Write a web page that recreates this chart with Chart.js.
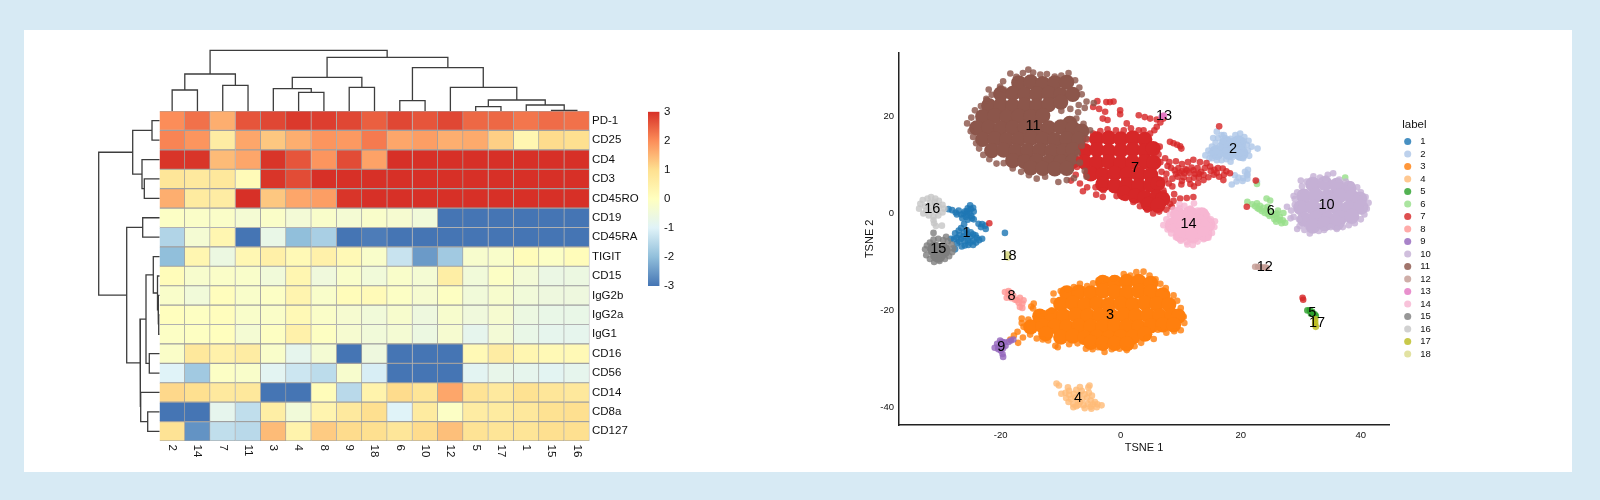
<!DOCTYPE html>
<html>
<head>
<meta charset="utf-8">
<title>Heatmap and TSNE</title>
<script src="https://cdn.jsdelivr.net/npm/chart.js@4/dist/chart.umd.min.js"></script>
<style>
  html, body { margin: 0; padding: 0; background: #d7eaf4; overflow: hidden; }
  #panel { position: absolute; left: 24px; top: 30px; width: 1548px; height: 442px; background: #fff; }
  canvas { position: absolute; left: 0; top: 0; }
</style>
</head>
<body>
<div id="panel"></div>
<canvas id="heat" width="1600" height="500"></canvas>
<canvas id="topTree" width="1600" height="500"></canvas>
<canvas id="leftTree" width="1600" height="500"></canvas>
<canvas id="colorBar" width="1600" height="500"></canvas>
<canvas id="tsne" width="1600" height="500"></canvas>
<script>
// HEATMAP DATA --------------------------------------------------------------
const clusterCols = ["2","14","7","11","3","4","8","9","18","6","10","12","5","17","1","15","16"];
const markerRows = ["PD-1","CD25","CD4","CD3","CD45RO","CD19","CD45RA","TIGIT","CD15","IgG2b","IgG2a","IgG1","CD16","CD56","CD14","CD8a","CD127"];

const rowPD1    = [2.0,2.3,1.6,2.6,2.75,2.9,2.85,2.75,2.5,2.75,2.6,2.75,2.4,2.4,2.25,2.35,2.3];
const rowCD25   = [2.1,1.9,0.6,1.7,1.3,1.6,1.9,1.85,2.2,1.7,1.8,1.6,1.65,1.2,0.3,1.05,1.0];
const rowCD4    = [2.95,2.95,1.45,1.7,2.95,2.6,1.9,2.7,1.75,3,3,3,3,3,3,3,3];
const rowCD3    = [0.8,0.7,0.75,0.15,2.95,2.7,3,3,3,3,3,3,3,3,3,3,3];
const rowCD45RO = [1.6,0.65,0.6,3,1.3,1.7,1.8,2.95,3,3,3,3,3,3,3,3,3];
const rowCD19   = [-0.1,-0.15,-0.15,-0.35,-0.15,-0.4,-0.2,-0.35,-0.2,-0.3,-0.45,-3,-3,-3,-3,-3,-3];
const rowCD45RA = [-1.6,-0.35,0.3,-3,-0.7,-2,-1.7,-3,-2.9,-3,-3,-3,-3,-3,-3,-3,-3];
const rowTIGIT  = [-2,0.3,-0.6,0.25,0.5,0.2,0.45,0.2,-0.2,-1.3,-2.5,-1.8,-0.25,-0.2,0.1,-0.1,0.1];
const rowCD15   = [0.1,-0.25,-0.15,-0.2,-0.45,0.3,-0.5,-0.2,-0.45,-0.2,-0.35,0.55,-0.45,-0.1,-0.4,-0.65,-0.6];
const rowIgG2b  = [-0.2,-0.45,0.05,-0.2,-0.1,0.35,-0.2,0.1,0.15,-0.1,-0.3,-0.05,-0.45,-0.25,-0.45,-0.55,-0.55];
const rowIgG2a  = [0.02,-0.05,0.05,-0.2,-0.15,0.2,-0.15,-0.3,-0.45,-0.25,-0.55,-0.25,-0.5,-0.3,-0.6,-0.7,-0.7];
const rowIgG1   = [-0.1,-0.05,0.02,-0.35,-0.05,0.45,-0.05,-0.3,-0.45,-0.35,-0.6,-0.3,-0.8,-0.4,-0.7,-0.8,-0.8];
const rowCD16   = [-0.15,0.75,0.45,0.6,-0.2,-0.8,-0.35,-3,-0.55,-3,-3,-3,0.2,0.6,0.3,0.2,0.2];
const rowCD56   = [-1,-1.8,-0.1,-0.2,-0.9,-1.25,-1.45,-0.25,-1.1,-3,-3,-3,-0.9,-0.75,-0.8,-0.9,-0.8];
const rowCD14   = [1.1,1,0.7,0.75,-3,-3,0.1,-1.5,0.4,1.05,0.85,1.7,0.9,0.7,0.95,0.8,0.75];
const rowCD8a   = [-3,-3,-0.8,-1.4,0.55,-0.45,0.35,0.7,1,-1,0.65,-0.1,0.6,0.65,0.75,0.95,1];
const rowCD127  = [0.9,-2.6,-1.4,-1.5,1.45,0.4,1.25,1.05,1,0.8,1.05,1.4,0.9,0.85,0.85,1,1];
const heatRows = [rowPD1,rowCD25,rowCD4,rowCD3,rowCD45RO,rowCD19,rowCD45RA,rowTIGIT,rowCD15,rowIgG2b,rowIgG2a,rowIgG1,rowCD16,rowCD56,rowCD14,rowCD8a,rowCD127];

const barTicks = [-3,-2,-1,0,1,2,3];
const barColors = ["#4575b4","#91bfdb","#e0f3f8","#ffffbf","#fee090","#fc8d59","#d73027"];

// dendrograms: each merge joins (pos1,low1) and (pos2,low2) at height "high"
const topPos1  = [0.5,2.5,1,5.5,4.5,7.5,5.25,9.5,12.5,15.5,14.5,13,11.5,10,6.625,2];
const topLow1  = [0,0,21,0,0,0,22.3,0,0,0,0,4.3,0,10.3,33.7,37];
const topPos2  = [1.5,3.5,3,6.5,6,8.5,8,10.5,13.5,16.5,16,15.25,14.125,12.8,11.4,9];
const topLow2  = [0,0,25.7,0,18.7,0,23.7,0,0,0,0.7,6,11,23.7,43.3,53.7];
const topHigh  = [21,25.7,37,18.7,22.3,23.7,33.7,10.3,4.3,0.7,6,11,23.7,43.3,53.7,60.7];

const leftPos1 = [0.5,3.5,2.5,1,5.5,10.5,9.5,8.5,7.5,12.5,8.44,15.5,14.5,10.72,6,2.125];
const leftLow1 = [0,0,0,7.5,0,0,0,0,0,0,6.2,0,0,13.5,16.8,26.8];
const leftPos2 = [1.5,4.5,4,3.25,6.5,11.5,11,10.25,9.375,13.5,13,16.5,16,15.25,12.98,9.49];
const leftLow2 = [0,0,15.2,17.5,0,0,0.8,1.5,2,0,10.2,0,11.8,18.8,19.5,32.8];
const leftHigh = [7.5,15.2,17.5,26.8,16.8,0.8,1.5,2,6.2,10.2,13.5,11.8,18.8,19.5,32.8,60.8];

// TSNE DATA -----------------------------------------------------------------
const tsneLabels = ["1","2","3","4","5","6","7","8","9","10","11","12","13","14","15","16","17","18"];
const tsneColors = ["#1f77b4","#aec7e8","#ff7f0e","#ffbb78","#2ca02c","#98df8a","#d62728","#ff9896","#9467bd","#c5b0d5","#8c564b","#c49c94","#e377c2","#f7b6d2","#7f7f7f","#c7c7c7","#bcbd22","#dbdb8d"];
const tsneTextX = [-25.7,18.7,-1.8,-7.1,31.9,25,2.4,-18.2,-19.9,34.3,-14.6,24,7.2,11.3,-30.4,-31.4,32.7,-18.7];
const tsneTextY = [-4,13.4,-21,-38,-20.5,0.5,9.3,-17.1,-27.6,1.7,18,-11,20.1,-2.2,-7.4,1,-22.6,-8.8];

const pts1 = [[-28.7,0.9],[-28.1,0.7],[-27.5,0.2],[-27,0.6],[-26.6,-0.2],[-26,0.4],[-25.5,1.1],[-25.1,1.7],[-24.6,1.2],[-24.5,0.4],[-25.2,0.1],[-25.8,-0.7],[-26.4,-1],[-25.5,-1.3],[-24.5,-1.2],[-24.9,-0.5],[-27.3,-0.2],[-26.1,-2.2],[-23.7,-2.1],[-23.1,-2.2],[-22.6,-2.5],[-23.3,-2.8],[-22.5,-3.2],[-19.3,-4],[-27.6,-4.1],[-27,-3.5],[-26.6,-3],[-26.1,-3.9],[-25.7,-3.4],[-25.1,-4.8],[-24.6,-4.3],[-24,-5],[-23.1,-5.2],[-23.6,-5.5],[-24.6,-5.6],[-25.5,-5.5],[-26,-6.6],[-26.6,-5.2],[-27.3,-6.2],[-27.6,-7.4],[-26.9,-5.8],[-25.4,-6.5],[-24.6,-6.5],[-26.5,-6.8],[-28.3,-5.2],[-27.8,-5.3],[-26.2,0],[-25.6,0.5],[-25,0.9],[-24.8,-1],[-25.6,-0.2],[-26.9,-4.5],[-26.2,-4.7],[-25.6,-4.2],[-27.3,-5],[-26,-5.7],[-25,-3.9],[-24.2,-4.5],[-25.1,-6],[-24.1,-6]];
const pts2 = [[14.1,12],[14.6,13],[15.2,13.8],[15.8,14.6],[15.4,15.6],[16,16.9],[16.8,16.2],[17.4,15.6],[18.3,15.4],[19.1,16.2],[19.9,16.5],[20.6,15.8],[21.3,15],[21.8,13.8],[21.2,13],[20.7,12.2],[20.4,11.4],[19.5,11.8],[18.6,11.6],[17.6,11.2],[16.8,11],[16,11],[15.2,11.4],[16.5,12.4],[17.5,13],[18.5,13.4],[19.5,13.2],[20.4,13.8],[19.6,14.6],[18.2,14.5],[16.6,14],[17,15],[15.8,12.8],[18.3,10.7],[19,7.9],[19.6,7.4],[20.4,7.3],[21.1,7.2],[21.1,8.2],[21.2,9],[20.3,6.7],[19.3,6.6],[18.5,6],[22.7,6.6],[21.4,11.9],[22.8,13.4],[15,12.4],[14.8,11.4],[16.2,15.6],[17.2,16.2],[18.8,15],[20.5,14.9],[21,14.2],[18.7,12.6],[19.8,12.5],[21.1,7.9],[20.7,8.6]];
const pts3 = [[-18.4,-26],[-17.8,-25.2],[-17.2,-24.4],[-16.2,-23.4],[-16.5,-22.6],[-16.5,-21.7],[-15.4,-21.9],[-14,-21.7],[-13.6,-20.8],[-14.5,-18.6],[-14.6,-19.6],[-12.8,-20.6],[-11.5,-20],[-11.2,-18],[-11.2,-16.5],[-10,-16],[-8.8,-15.6],[-7.8,-15.2],[-6.8,-14.5],[-5.6,-15],[-4.6,-14.4],[-3.7,-13.8],[-2.4,-13.6],[-1.2,-13.4],[0.5,-12.5],[1.6,-12.8],[2.6,-12.1],[3.8,-12],[4.8,-12.8],[5.8,-13.6],[6.6,-14.5],[7.5,-15.4],[8.8,-16.9],[9.4,-18],[10,-19.5],[10.5,-21.3],[10.6,-22.6],[10,-24.1],[8.9,-24.3],[7.6,-24.6],[6.2,-24],[5.5,-25.9],[4.4,-25.6],[3.4,-26.7],[2.3,-27.4],[1,-28.2],[-0.2,-27.9],[-1.5,-28],[-2.7,-28.6],[-3.8,-27.6],[-4.7,-28],[-5.8,-27.9],[-7.2,-26.8],[-8.6,-27],[-10.5,-27.6],[-10.9,-27.3],[-12.1,-26.2],[-13,-26],[-14,-25.8],[-15.1,-25],[-16.3,-25.6],[-17.1,-26.7],[-14.9,-19.2]];
const pts4 = [[-10.7,-35.1],[-10.3,-35.5],[-8.8,-35.9],[-7.4,-36.4],[-6.8,-35.8],[-5.4,-35.9],[-5.2,-35.5],[-9.9,-37.2],[-9.2,-37],[-8.6,-37.4],[-7.8,-37.2],[-6.9,-37.4],[-6,-37.3],[-5.6,-38],[-6.4,-38.4],[-7.2,-38.6],[-8.3,-38.3],[-9.1,-38.1],[-7.9,-39.4],[-7.9,-40],[-7,-39.5],[-6.2,-39.6],[-5.5,-39.3],[-4.9,-40.3],[-4.6,-39.4],[-3.9,-39.4],[-3.2,-39.6],[-4.3,-38.9],[-5,-38.6],[-8.6,-36.6],[-7.6,-38],[-8.7,-38.9],[-6.8,-38.9],[-7.4,-39.8],[-6,-40.2],[-5.3,-37],[-4.8,-37.6],[-6.5,-36.6],[-5,-39.9],[-4,-40]];
const pts5 = [[31.1,-20],[31.5,-20],[31.9,-20.3],[32.3,-20.8],[32.5,-21.1],[31.7,-20.7]];
const pts6 = [[21.1,2.4],[21.9,1.9],[22.7,2.1],[23.2,1.6],[23.8,1.2],[24.3,0.7],[24.5,1.4],[25,0.4],[25.6,-0.2],[26,-1],[26.5,-0.7],[27,-1.4],[27.4,-1.9],[26.8,-2],[25.6,-1.2],[24.8,-0.5],[24,0.1],[23.5,0.5],[22.8,1.1],[24.3,3.1],[24.9,2.7],[27.1,0.1],[26.2,0.6],[37.4,7.4],[22.7,6.1],[22.4,1.5],[23.1,0.9],[24.5,-0.1],[25.2,-0.3],[26,0],[26.5,-1.4],[25.9,-1.7]];
const pts7 = [[-8.3,6.8],[-7.5,8],[-7.3,9.6],[-6.9,11.2],[-6.5,13.8],[-5.6,15.3],[-4.6,16.5],[-3.4,17],[-2.2,17.4],[-0.8,17.2],[0.5,17.2],[1.7,17.6],[3,17.2],[3.8,17.2],[4.9,16.5],[5.6,17.2],[6,17.9],[6.6,18.8],[7.1,19.6],[6,19.4],[4.9,19.6],[4,19.9],[3,20.3],[1,18.6],[-0.1,21.3],[-0.1,20.5],[-1.8,23],[-2.4,23],[-1.2,23.1],[-4.6,22],[-3.6,21.6],[-2.6,21],[-2.2,19.3],[-3,19.6],[-3.9,23.2],[6.5,13.8],[6.3,12.2],[6.6,10.6],[6.8,8.6],[6.5,6.2],[7.2,4.2],[8.2,2],[7.6,0.8],[6.4,0.4],[5.4,0],[4.4,0.8],[3.2,1.5],[2.1,2.4],[0.8,3.2],[-0.7,3.6],[-2.9,4.8],[-4.2,5.4],[-5.6,5.4],[-6.8,6.2],[-6.3,4.6],[-4.1,3.9],[-3,3.4],[8.2,14.8],[8.8,14.5],[9.4,14.2],[9.9,13.9],[10.1,13.4],[7.8,9.8],[8.4,9.4],[9,8.9],[9.6,9.4],[10.2,8.7],[10.8,9.2],[11.4,8.4],[12.1,8.9],[12.8,9.4],[13.4,8.6],[14,9.4],[14.9,9.7],[15.6,9],[16.2,9.4],[17,9.3],[17.6,8.7],[18.2,8.3],[17.1,6.9],[16.4,7.6],[15.5,8],[14.6,7.5],[13.8,6.9],[13,7.5],[12.2,7.4],[11.4,7],[10.5,7.5],[9.5,7.6],[8.6,7.2],[8,6.2],[8.6,5.6],[7.6,8.2],[12.1,11.1],[11.2,10.6],[10.2,10.2],[9.2,10.8],[13.2,10.6],[14.3,10.4],[12.2,5.6],[10.1,6],[7.1,4.8],[8.9,4],[9.9,3.1],[11,3.2],[12.1,3.4],[8.5,1.4],[8.8,2.6],[16.4,18],[21,1.4],[30.3,-17.4],[30.4,-17.8],[-21.9,-2],[22.5,6.8],[10.6,8.3],[11,8.9],[11.8,9.5],[12.4,8.2],[13,8.2],[13.8,8],[9.8,8.4],[9.2,8.2],[10.2,6.7],[11.6,6.1],[12.9,6.3],[15,8.8],[16,8.4],[17.2,8],[7.4,7],[8.1,10.6],[7.4,11.4]];
const pts8 = [[-19.3,-16.2],[-18.7,-16],[-18.7,-16.7],[-19,-17.4],[-18.2,-17.5],[-17.6,-17.8],[-17.3,-17.9],[-16.8,-17.4],[-16.2,-17.9],[-16.4,-18.6],[-16.8,-19.3],[-16.4,-19.5],[-18.4,-16.3],[-17.9,-17],[-17,-18.4]];
const pts9 = [[-20.4,-27.6],[-21,-27.7],[-20.6,-26.9],[-20.1,-26.2],[-19.8,-27],[-19.4,-26.6],[-18.7,-26.5],[-18.3,-26.2],[-17.9,-26],[-19.6,-27.8],[-20,-28.3],[-19.7,-29],[-19.6,-29.6],[-20.4,-28],[-19.2,-27.3],[-19.8,-26.5]];
const pts10 = [[27.7,1.4],[28.4,0.6],[28.8,-0.7],[28.3,-1],[29,1.8],[28.8,3.6],[29.4,4.4],[30.2,5.6],[31,6.6],[32.1,7.7],[33.2,7.4],[34.2,7.2],[35.4,8.3],[36.4,7],[37.5,6.6],[38.4,6],[39.4,5.4],[40,4.4],[40.8,3.4],[41.3,2.2],[41,1],[40.6,-0.2],[40,-1.2],[39,-2],[38,-2.4],[37,-2.8],[36,-3.2],[35,-2.8],[33.9,-3.4],[33,-3.6],[31.5,-4.1],[30.6,-3.4],[29.8,-2.6],[29.7,-1.2],[29,3],[30,6.8],[34.5,8],[29.4,-3.2]];
const pts11 = [[-25.6,18.6],[-25,17],[-24.6,15.8],[-24.9,19.8],[-24.3,21.3],[-23.3,22.2],[-22.3,23.4],[-22.4,23.7],[-21.5,24.5],[-20.1,26.2],[-19.6,27.3],[-18.4,28.9],[-17.4,28.2],[-16.3,29],[-15.4,29.7],[-14.6,29.1],[-13.4,28.7],[-12.3,28.8],[-11,28.3],[-9.9,28.5],[-8.7,29],[-7.6,27.5],[-6.9,26],[-6.5,24.6],[-5.7,23.1],[-7,22.4],[-8.4,21.6],[-9.9,21.2],[-7.4,19.6],[-6.2,18.5],[-5.1,17.2],[-5.8,15.5],[-6.5,14],[-7.2,12.5],[-6.8,10.5],[-6,8.8],[-5.7,7.6],[-7.8,7.3],[-9,6.9],[-10.4,6.5],[-12.6,7.6],[-14,7.2],[-15.3,7.9],[-16.6,8.6],[-18,9.3],[-19.5,10.4],[-20.7,10.3],[-21.9,11.2],[-22.9,12.1],[-23.6,13.4],[-24.1,14.5],[-20,25.8],[-19.5,25.6],[-4.5,22.8],[-6,21.8],[-7.1,20.9],[-22,25.6]];
const pts12 = [[22.4,-11],[22.9,-11],[23.4,-11.1],[24,-11.1],[24.3,-11.2]];
const pts13 = [[7,20.1],[7.2,20.2],[6.8,19.9]];
const pts14 = [[7.1,-2.4],[7.6,-1.2],[8.2,-0.2],[8.8,0.8],[9.8,1.1],[10.6,1.6],[11.6,1],[12.2,2.1],[12.8,0.6],[13.6,0.3],[14.4,-0.4],[15,-1.2],[15.7,-1.6],[15.6,-2.8],[15.2,-4],[14.6,-5],[13.8,-5.3],[12.8,-5.8],[12,-6.5],[11,-5.9],[10,-5.6],[9.2,-4.9],[8.4,-4.1],[7.8,-3.3],[8.6,-2.8],[11.1,-6.4],[9.8,1.9]];
const pts15 = [[-32.6,-7.4],[-32.3,-6.6],[-31.8,-6],[-31.2,-5.4],[-30.4,-5.2],[-29.6,-5.5],[-28.8,-5.7],[-28.2,-6.4],[-27.9,-7.2],[-28.1,-8],[-28.6,-8.8],[-29.3,-9.4],[-30.2,-9.8],[-31.1,-10],[-31.8,-9.4],[-32.4,-8.6],[-31.2,-8.8],[-30.2,-8.4],[-29.4,-8],[-31.4,-7.2],[-30.6,-6.6],[-29.6,-6.8],[-31.2,-4],[-29.1,-4.8]];
const pts16 = [[-33.6,1],[-33.4,2],[-33,2.8],[-32.2,3.1],[-31.6,3.4],[-30.9,3.1],[-30.3,2.6],[-29.7,1.8],[-29.4,1],[-29.7,0.2],[-30.4,-0.4],[-31.2,-0.7],[-32,-0.4],[-32.9,0],[-32,1.2],[-31,1.6],[-30.6,0.6],[-31.8,2.2],[-31.2,-1.4],[-31.1,-2],[-30.8,-2.6],[-29.8,-2.5],[-32.6,1.5],[-31.4,0.5],[-32.4,0.6],[-31,2.4],[-30.3,1.4]];
const pts17 = [[32.4,-21.8],[32.4,-22.4],[32.4,-22.9],[32.5,-23.4]];
const pts18 = [[-18.8,-8.7],[-18.8,-9.1],[-18.9,-8.4]];
const clusterPoints = [pts1,pts2,pts3,pts4,pts5,pts6,pts7,pts8,pts9,pts10,pts11,pts12,pts13,pts14,pts15,pts16,pts17,pts18];

// inside of the dense clouds, drawn solid under the single points
const body2 = [[16,12.6],[18,12.6],[20,12.4],[17.6,14.4],[19.6,14.6]];
const body3 = [[-3,-14.2],[-1,-14.2],[1,-14],[3,-14],[5,-14.4],[-9,-16.4],[-7,-16.2],[-5,-16.4],[-3,-16],[-1,-16.2],[1,-16.4],[3,-16],[5,-16.2],[7,-16.8],[-10,-18.7],[-8,-18.5],[-6,-18.8],[-4,-18.6],[-2,-18.8],[0,-18.6],[2,-18.8],[4,-18.5],[6,-18.7],[8,-18.8],[-13.5,-21.2],[-11.5,-21],[-9.5,-21.2],[-7.5,-20.9],[-5.5,-21.1],[-3.5,-21],[-1.5,-21.2],[0.5,-20.9],[2.5,-21.1],[4.5,-21],[6.5,-21.2],[8.5,-21],[9.6,-21.2],[-15,-23.4],[-13,-23.2],[-11,-23.3],[-9,-23.4],[-7,-23.2],[-5,-23.3],[-3,-23.4],[-1,-23.2],[1,-23.3],[3,-23.4],[5,-23.2],[7,-23],[8.8,-23],[-12.5,-24.8],[-10,-25.5],[-8,-25.3],[-6,-25.6],[-4,-25.4],[-2,-25.6],[0,-25.4],[2,-25.5],[4,-24.9],[-5,-26.6],[-3,-26.8],[-1,-26.8],[1,-26.9]];
const body7 = [[-4,15.4],[-2,15.6],[0,15.4],[2,15.6],[4,15.3],[-6,13],[-4,13.2],[-2,12.9],[0,13],[2,13.2],[4,13],[5.4,13.4],[-6,10.6],[-4,10.5],[-2,10.7],[0,10.4],[2,10.6],[4,10.7],[5.5,10.5],[-5,8.2],[-3,8],[-1,8.3],[1,8.1],[3,8.2],[5,8],[-3,6],[-1,5.7],[1,5.9],[3,5.7],[5,5.9],[6.2,6.2],[0.6,4.2],[2.4,3.6],[4,3.3],[6,3.4],[7,3],[4.6,1.9],[6.2,1.7]];
const body10 = [[32,6],[34,6.2],[36,5.8],[38,5.2],[30.5,3.6],[32.5,3.8],[34.5,3.5],[36.5,3.7],[38.5,3.4],[39.8,3],[30,1.2],[32,1.3],[34,1],[36,1.2],[38,1.1],[40,1.3],[30.6,-1.2],[32.5,-1],[34.5,-1.2],[36.5,-0.9],[38.5,-0.6],[32,-2.6],[34,-2.1],[36,-2]];
const body11 = [[-17,27],[-15,27.2],[-13,26.8],[-11,27],[-9,27.1],[-20,24.7],[-18,24.8],[-16,24.6],[-14,24.7],[-12,24.8],[-10,24.5],[-8,24.6],[-22,22.3],[-20,22.4],[-18,22.2],[-16,22.4],[-14,22.2],[-12,22.5],[-10,23],[-23,20],[-21,20.2],[-19,19.9],[-17,20.1],[-15,20],[-13,20.2],[-8.5,18.6],[-24,17.7],[-22,17.8],[-20,17.6],[-18,17.7],[-16,17.8],[-14,17.6],[-12,17.7],[-10,17.9],[-8,17.6],[-6.5,17],[-23,15.3],[-21,15.4],[-19,15.2],[-17,15.3],[-15,15.5],[-13,15.3],[-11,15.2],[-9,15.4],[-7,15.3],[-21.5,13],[-19.5,13.1],[-17.5,12.9],[-15.5,13],[-13.5,13.1],[-11.5,12.9],[-9.5,13],[-8,13.2],[-18,10.9],[-16,10.7],[-14,10.8],[-12,10.6],[-10,10.7],[-8,10.8],[-15,9.4],[-13,9.3],[-11,9.2],[-9,9.3]];
const body14 = [[9.5,-0.2],[11.5,0],[13.5,-0.3],[8.6,-2.4],[10.5,-2.3],[12.5,-2.5],[14.5,-2.3],[10,-4.4],[12,-4.6],[14,-4.2]];
const body15 = [[-31,-7.4],[-29.6,-7.6],[-30.4,-8.6]];
const bodyLabels = ["2","3","7","10","11","14","15"];
const bodyPoints = [body2,body3,body7,body10,body11,body14,body15];

// HELPERS -------------------------------------------------------------------
const FONT = "'Liberation Sans', Arial, sans-serif";
Chart.defaults.font.family = FONT;
Chart.defaults.animation = false;
Chart.defaults.responsive = false;
Chart.defaults.plugins.tooltip.enabled = false;
Chart.defaults.plugins.legend.display = false;

function padTo(x0, y0, x1, y1, extraRight) {
    return { padding: { left: x0, top: y0, right: 1600 - x1 - (extraRight || 0), bottom: 500 - y1 } };
}

function hexToRgb(h) {
    return [1, 3, 5].map(i => parseInt(h.substr(i, 2), 16));
}

// same scale as the colour bar
function heatColor(v) {
    const t = Math.max(0, Math.min(5.9999, v + 3));
    const i = Math.floor(t);
    const a = hexToRgb(barColors[i]);
    const b = hexToRgb(barColors[i + 1]);
    const c = a.map((n, k) => Math.round(n + (b[k] - n) * (t - i)));
    return "rgb(" + c.join(",") + ")";
}

function treeDatasets(pos1, low1, pos2, low2, high, horizontal) {
    return high.map((h, i) => {
        const line = [[pos1[i], low1[i]], [pos1[i], h], [pos2[i], h], [pos2[i], low2[i]]];
        return {
            data: line.map(p => horizontal ? { x: p[1], y: p[0] } : { x: p[0], y: p[1] }),
            showLine: true, pointRadius: 0, borderColor: "#3d3d3d", borderWidth: 1.3, tension: 0, clip: false
        };
    });
}

// HEATMAP -------------------------------------------------------------------
// rotated column names hang under the cells, reading downwards
const columnNames = {
    id: "columnNames",
    afterDraw(chart) {
        const c = chart.ctx;
        const xs = chart.scales.x;
        c.save();
        c.font = "11.5px " + FONT;
        c.fillStyle = "#111";
        c.textAlign = "left";
        c.textBaseline = "middle";
        clusterCols.forEach((name, i) => {
            c.save();
            c.translate(xs.getPixelForValue(i + 0.5), chart.chartArea.bottom + 3.5);
            c.rotate(Math.PI / 2);
            c.fillText(name, 0, 0);
            c.restore();
        });
        c.restore();
    }
};

new Chart(document.getElementById("heat"), {
    type: "bar",
    data: {
        labels: markerRows,
        datasets: clusterCols.map((name, i) => ({
            label: name,
            data: markerRows.map(() => 1),
            backgroundColor: heatRows.map(r => heatColor(r[i])),
            borderColor: "#a0a0a0",
            borderWidth: 0.9,
            barPercentage: 1,
            categoryPercentage: 1
        }))
    },
    options: {
        indexAxis: "y",
        layout: padTo(159.5, 111, 589.5, 441, 60),
        scales: {
            x: { stacked: true, min: 0, max: 17, display: false },
            y: {
                stacked: true,
                position: "right",
                afterFit(s) { s.width = 60; },
                grid: { display: false, drawTicks: false },
                border: { display: false },
                ticks: { autoSkip: false, padding: 2.5, color: "#111", font: { size: 11.5 } }
            }
        }
    },
    plugins: [columnNames]
});

// DENDROGRAMS ---------------------------------------------------------------
new Chart(document.getElementById("topTree"), {
    type: "scatter",
    data: { datasets: treeDatasets(topPos1, topLow1, topPos2, topLow2, topHigh, false) },
    options: {
        layout: padTo(159.5, 50, 589.5, 111),
        scales: {
            x: { type: "linear", min: 0, max: 17, display: false },
            y: { type: "linear", min: 0, max: 61, display: false }
        }
    }
});

new Chart(document.getElementById("leftTree"), {
    type: "scatter",
    data: { datasets: treeDatasets(leftPos1, leftLow1, leftPos2, leftLow2, leftHigh, true) },
    options: {
        layout: padTo(98.5, 111, 159.5, 441),
        scales: {
            x: { type: "linear", min: 0, max: 61, reverse: true, display: false },
            y: { type: "linear", min: 0, max: 17, reverse: true, display: false }
        }
    }
});

// COLOUR BAR ----------------------------------------------------------------
new Chart(document.getElementById("colorBar"), {
    type: "bar",
    data: {
        labels: [""],
        datasets: [{
            data: [[barTicks[0], barTicks[barTicks.length - 1]]],
            barPercentage: 1,
            categoryPercentage: 1,
            backgroundColor(ctx) {
                const area = ctx.chart.chartArea;
                if (!area) return barColors[3];
                const g = ctx.chart.ctx.createLinearGradient(0, area.bottom, 0, area.top);
                barColors.forEach((col, i) => g.addColorStop(i / (barColors.length - 1), col));
                return g;
            }
        }]
    },
    options: {
        layout: padTo(648, 111.7, 659.5, 286, 30),
        scales: {
            x: { display: false },
            y: {
                position: "right",
                min: -3, max: 3,
                afterFit(s) { s.width = 30; },
                grid: { display: false, drawTicks: false },
                border: { display: false },
                ticks: { stepSize: 1, padding: 4.5, color: "#111", font: { size: 11.5 } }
            }
        }
    }
});

// TSNE ----------------------------------------------------------------------
const clusterNames = {
    id: "clusterNames",
    afterLayout(chart) {
        // legend sits apart from the plot, its box has to follow or it clips
        chart.legend.left = 1402.2;
        chart.legend.right = 1470;
        chart.legend.top = 119;
    },
    afterDatasetsDraw(chart) {
        const c = chart.ctx;
        c.save();
        c.font = "14.5px " + FONT;
        c.fillStyle = "#000";
        c.textAlign = "center";
        c.textBaseline = "middle";
        tsneLabels.forEach((name, i) => {
            c.fillText(name, chart.scales.x.getPixelForValue(tsneTextX[i]), chart.scales.y.getPixelForValue(tsneTextY[i]));
        });
        c.restore();
    }
};

const cloudSets = tsneLabels.map((name, i) => ({
    label: name,
    data: clusterPoints[i].map(p => ({ x: p[0], y: p[1] })),
    pointRadius: 3.3,
    pointBorderWidth: 0,
    backgroundColor: tsneColors[i] + "d0",
    borderColor: tsneColors[i],
    order: 100 - i
}));
const bodySets = bodyLabels.map((name, i) => ({
    label: name + " body",
    data: bodyPoints[i].map(p => ({ x: p[0], y: p[1] })),
    pointRadius: 7.6,
    pointBorderWidth: 0,
    backgroundColor: tsneColors[tsneLabels.indexOf(name)],
    order: 200 - tsneLabels.indexOf(name)
}));

new Chart(document.getElementById("tsne"), {
    type: "scatter",
    data: { datasets: cloudSets.concat(bodySets) },
    options: {
        layout: { padding: { left: 863, top: 52.7, right: 177, bottom: 45 } },
        scales: {
            x: {
                type: "linear",
                min: -36.95, max: 44.7,
                afterFit(s) { s.height = 30; },
                grid: { display: false, tickLength: 3, tickColor: "#222" },
                border: { color: "#222", width: 1.5 },
                ticks: { stepSize: 20, includeBounds: false, padding: 2, color: "#111", font: { size: 9.5 }, maxRotation: 0 },
                title: { display: true, text: "TSNE 1", color: "#111", font: { size: 11 }, padding: 0 }
            },
            y: {
                type: "linear",
                min: -43.66, max: 33.2,
                afterFit(s) { s.width = 36; },
                grid: { display: false, tickLength: 3, tickColor: "#222" },
                border: { color: "#222", width: 1.5 },
                ticks: { stepSize: 20, includeBounds: false, padding: 2, color: "#111", font: { size: 9.5 } },
                title: { display: true, text: "TSNE 2", color: "#111", font: { size: 11 }, padding: 0 }
            }
        },
        plugins: {
            legend: {
                display: true,
                position: "right",
                maxWidth: 34,
                align: "start",
                title: { display: true, text: "label", color: "#111", font: { size: 11.5 }, padding: { top: 0, bottom: 1 }, position: "start" },
                labels: {
                    usePointStyle: true,
                    pointStyle: "circle",
                    boxWidth: 5,
                    boxHeight: 5,
                    padding: 3,
                    color: "#111",
                    font: { size: 9.5 },
                    // two spaces keep the names away from the dots
                    generateLabels: chart => Chart.defaults.plugins.legend.labels.generateLabels(chart)
                        .map(item => ({ ...item, text: "\u00a0\u00a0" + item.text })),
                    filter: item => item.datasetIndex < tsneLabels.length,
                    sort: (a, b) => a.datasetIndex - b.datasetIndex
                }
            }
        }
    },
    plugins: [clusterNames]
});
</script>
</body>
</html>
